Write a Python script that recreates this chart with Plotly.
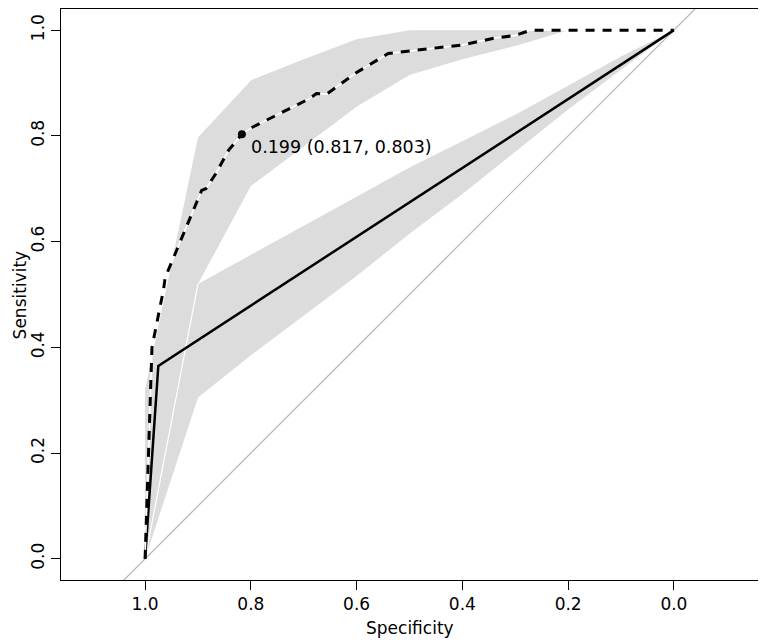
"""ROC curves of two classifiers with sensitivity confidence bands."""

import plotly.graph_objects as go

# dashed ROC curve (best threshold printed)
roc_a_spec = [1.0, 0.987, 0.965, 0.962, 0.893, 0.885, 0.866, 0.842, 0.817, 0.798,
              0.69, 0.676, 0.657, 0.60, 0.54, 0.503, 0.40, 0.339, 0.30, 0.271, 0.0]
roc_a_sens = [0.0, 0.40, 0.51, 0.532, 0.697, 0.70, 0.729, 0.773, 0.803, 0.816,
              0.87, 0.88, 0.879, 0.92, 0.956, 0.96, 0.972, 0.985, 0.99, 1.0, 1.0]

# solid ROC curve
roc_b_spec = [1.0, 0.975, 0.0]
roc_b_sens = [0.0, 0.365, 1.0]

# sensitivity confidence intervals at fixed specificities
ci_spec = [1.0, 0.9, 0.8, 0.7, 0.6, 0.5, 0.4, 0.3, 0.2, 0.1, 0.0]
ci_a_low = [0.0, 0.52, 0.705, 0.78, 0.855, 0.915, 0.945, 0.97, 1.0, 1.0, 1.0]
ci_a_high = [0.32, 0.797, 0.905, 0.945, 0.983, 1.0, 1.0, 1.0, 1.0, 1.0, 1.0]
ci_b_low = [0.0, 0.305, 0.385, 0.46, 0.535, 0.615, 0.69, 0.77, 0.85, 0.925, 1.0]
ci_b_high = [0.0, 0.52, 0.575, 0.63, 0.685, 0.74, 0.79, 0.84, 0.895, 0.95, 1.0]

best_thr = 0.199
best_spec = 0.817
best_sens = 0.803

# chance line (sens = 1 - spec), extended past the axes
diag_spec = [1.3, -0.3]
diag_sens = [1 - s for s in diag_spec]

TICKS = [1.0, 0.8, 0.6, 0.4, 0.2, 0.0]
FONT = dict(family="DejaVu Sans", size=17, color="black")
BAND = "#DCDCDC"

fig = go.Figure()

for low, high in [(ci_a_low, ci_a_high), (ci_b_low, ci_b_high)]:
    fig.add_trace(
        go.Scatter(
            x=ci_spec + ci_spec[::-1],
            y=low + high[::-1],
            fill="toself",
            fillcolor=BAND,
            line=dict(width=0),
            mode="lines",
            hoverinfo="skip",
        )
    )

# thin seam where the two bands meet
fig.add_trace(
    go.Scatter(x=ci_spec[:2], y=ci_a_low[:2], mode="lines",
               line=dict(color="white", width=1.2), hoverinfo="skip")
)

fig.add_trace(
    go.Scatter(x=diag_spec, y=diag_sens, mode="lines",
               line=dict(color="#B4B4B4", width=1.2), hoverinfo="skip")
)

fig.add_trace(
    go.Scatter(x=roc_b_spec, y=roc_b_sens, mode="lines",
               line=dict(color="black", width=2.5))
)

# dashed curve: white underline so the gaps show on the grey band
fig.add_trace(
    go.Scatter(x=roc_a_spec, y=roc_a_sens, mode="lines",
               line=dict(color="white", width=1.5), hoverinfo="skip")
)
fig.add_trace(
    go.Scatter(x=roc_a_spec, y=roc_a_sens, mode="lines",
               line=dict(color="black", width=3, dash="9px,8px"))
)

fig.add_trace(
    go.Scatter(x=[best_spec], y=[best_sens], mode="markers",
               marker=dict(color="black", size=8))
)
fig.add_annotation(
    x=best_spec,
    y=best_sens,
    text=f"{best_thr:.3f} ({best_spec:.3f}, {best_sens:.3f})",
    showarrow=False,
    xanchor="left",
    yanchor="top",
    xshift=7,
    yshift=-1,
    font=dict(family="DejaVu Sans", size=17.5, color="black"),
)

# axis titles placed by hand (automargin is off to keep the box fixed)
fig.add_annotation(
    text="Specificity", xref="paper", yref="paper", x=0.5, y=-0.084,
    xanchor="center", yanchor="middle", showarrow=False, font=FONT,
)
fig.add_annotation(
    text="Sensitivity", xref="paper", yref="paper", x=-0.059, y=0.5,
    xanchor="center", yanchor="middle", textangle=-90, showarrow=False, font=FONT,
)

axis = dict(
    tickvals=TICKS,
    tickformat=".1f",
    ticks="outside",
    ticklen=9,
    tickwidth=1,
    tickcolor="black",
    showline=True,
    linecolor="black",
    linewidth=1,
    mirror=True,
    showgrid=False,
    zeroline=False,
    tickfont=FONT,
    automargin=False,
)

# the page body adds an 8px offset, so the figure is sized to fit the window
fig.update_layout(
    width=758,
    height=636,
    margin=dict(l=53, r=8, t=1, b=64),
    plot_bgcolor="white",
    paper_bgcolor="white",
    showlegend=False,
    font=FONT,
    xaxis=dict(range=[1.159, -0.159], **axis),
    yaxis=dict(range=[-0.04, 1.04], tickangle=-90, **axis),
)

fig.write_html("out.html")
